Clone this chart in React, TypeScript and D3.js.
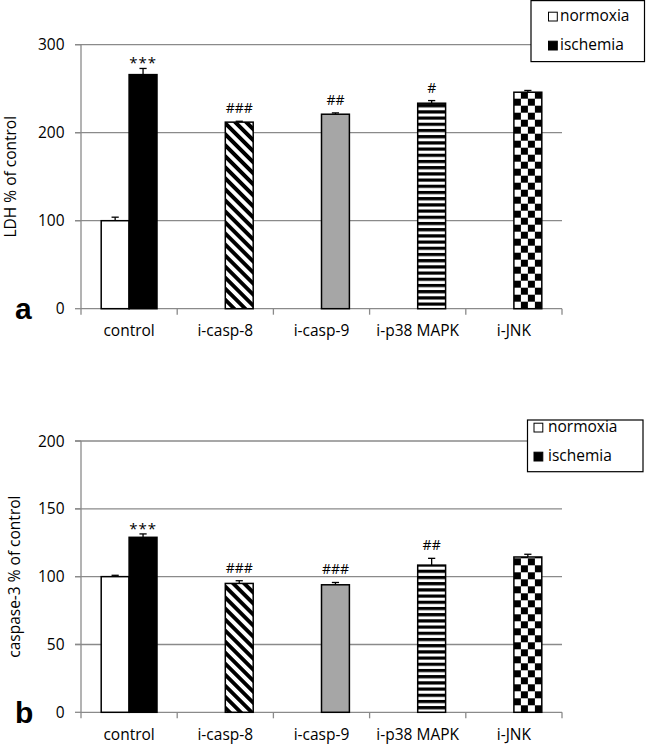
import React from "react";
import * as d3 from "d3";

const categories = ["control", "i-casp-8", "i-casp-9", "i-p38 MAPK", "i-JNK"];
const seriesNames = ["normoxia", "ischemia"];

const ldhNormoxia: (number | null)[] = [100, null, null, null, null];
const ldhNormoxiaErr: (number | null)[] = [4, null, null, null, null];
const ldhIschemia = [266, 212, 221, 233.5, 246];
const ldhIschemiaErr = [7, 1, 1.5, 3, 2];
const ldhMarks = ["***", "###", "##", "#", ""];
const ldhTicks = [0, 100, 200, 300];

const casNormoxia: (number | null)[] = [100, null, null, null, null];
const casNormoxiaErr: (number | null)[] = [1, null, null, null, null];
const casIschemia = [129, 95, 94, 108.5, 114.5];
const casIschemiaErr = [2.5, 2, 1.7, 5, 2];
const casMarks = ["***", "###", "###", "##", ""];
const casTicks = [0, 50, 100, 150, 200];

const fills = ["solid", "diag", "gray", "hstripe", "checker"];

const FONT = "'Open Sans', 'Noto Sans', sans-serif";
const GRID = "#8a8a8a";

type PanelProps = {
  id: string;
  yTop: number;
  yBottom: number;
  ticks: number[];
  normoxia: (number | null)[];
  normoxiaErr: (number | null)[];
  ischemia: number[];
  ischemiaErr: number[];
  marks: string[];
  ylabel: string;
  ylabelX: number;
  letter: string;
  letterY: number;
  legend: { x: number; y: number; w: number; h: number; mx: number; tx: number; rows: number[] };
};

function Panel(p: PanelProps) {
  const x = d3.scaleBand<string>().domain(categories).range([81, 562]).padding(0);
  const max = p.ticks[p.ticks.length - 1];
  const y = d3.scaleLinear().domain([0, max]).range([p.yBottom, p.yTop]);
  const bw = x.bandwidth() * 0.29;
  const center = (c: string) => (x(c) as number) + x.bandwidth() / 2;
  const fillFor = (i: number) => {
    const f = fills[i];
    if (f === "solid") return "#000";
    if (f === "gray") return "#a6a6a6";
    return `url(#${p.id}-${f})`;
  };
  const leftOf = (name: string) => center(categories[fills.indexOf(name)]);

  return (
    <g>
      <defs>
        <pattern id={`${p.id}-diag`} patternUnits="userSpaceOnUse" width={7.8} height={10}
          patternTransform="rotate(-45)">
          <rect width={7.8} height={10} fill="#fff" />
          <rect width={3.9} height={10} fill="#000" />
        </pattern>
        <pattern id={`${p.id}-hstripe`} patternUnits="userSpaceOnUse" width={10} height={6.2}
          x={leftOf("hstripe")} y={p.yBottom}>
          <rect width={10} height={6.2} fill="#fff" />
          <rect width={10} height={3.2} fill="#000" />
        </pattern>
        <pattern id={`${p.id}-checker`} patternUnits="userSpaceOnUse" width={14} height={14}
          x={leftOf("checker")} y={p.yBottom}>
          <rect width={14} height={14} fill="#fff" />
          <rect width={7} height={7} fill="#000" />
          <rect x={7} y={7} width={7} height={7} fill="#000" />
        </pattern>
      </defs>

      {p.ticks.filter((t) => t > 0).map((t) => (
        <line key={t} x1={75} x2={562} y1={y(t)} y2={y(t)} stroke={GRID} strokeWidth={1.3} />
      ))}
      {p.ticks.map((t) => (
        <g key={"t" + t}>
          <line x1={75} x2={81} y1={y(t)} y2={y(t)} stroke={GRID} strokeWidth={1.3} />
          <text x={64.5} y={y(t) + 5.5} textAnchor="end" fontFamily={FONT} fontSize={15.5} fill="#000">
            {t}
          </text>
        </g>
      ))}
      <line x1={81} x2={81} y1={p.yTop} y2={p.yBottom} stroke={GRID} strokeWidth={1.3} />
      <line x1={81} x2={562} y1={p.yBottom} y2={p.yBottom} stroke={GRID} strokeWidth={1.3} />
      {[...categories.map((c) => x(c) as number), 562].map((xx, i) => (
        <line key={"xt" + i} x1={xx} x2={xx} y1={p.yBottom} y2={p.yBottom + 6} stroke={GRID} strokeWidth={1.3} />
      ))}
      {categories.map((c) => (
        <text key={"c" + c} x={center(c)} y={p.yBottom + 27.5} textAnchor="middle" fontFamily={FONT}
          fontSize={15.5} fill="#000">
          {c}
        </text>
      ))}

      {categories.map((c, i) => {
        const v = p.normoxia[i];
        if (v == null) return null;
        const e = p.normoxiaErr[i] ?? 0;
        const cx = center(c) - bw / 2;
        return (
          <g key={"n" + c}>
            <line x1={cx} x2={cx} y1={y(v)} y2={y(v + e)} stroke="#000" strokeWidth={1.3} />
            <line x1={cx - 3.6} x2={cx + 3.6} y1={y(v + e)} y2={y(v + e)} stroke="#000" strokeWidth={1.3} />
            <rect x={center(c) - bw} y={y(v)} width={bw} height={p.yBottom - y(v)} fill="#fff"
              stroke="#000" strokeWidth={1.5} />
          </g>
        );
      })}
      {categories.map((c, i) => {
        const v = p.ischemia[i];
        const e = p.ischemiaErr[i];
        const cx = center(c) + bw / 2;
        const capY = y(v + e);
        const m = p.marks[i];
        const isStar = m.startsWith("*");
        return (
          <g key={"i" + c}>
            <line x1={cx} x2={cx} y1={y(v)} y2={capY} stroke="#000" strokeWidth={1.3} />
            <line x1={cx - 3.6} x2={cx + 3.6} y1={capY} y2={capY} stroke="#000" strokeWidth={1.3} />
            <rect x={center(c)} y={y(v)} width={bw} height={p.yBottom - y(v)} fill={fillFor(i)}
              stroke="#000" strokeWidth={1.5} />
            {m && (
              <text x={cx} y={isStar ? capY : capY - 8} textAnchor="middle" fontFamily={FONT}
                fontSize={isStar ? 15 : 14} letterSpacing={isStar ? 1 : 0} fill="#000">
                {m}
              </text>
            )}
          </g>
        );
      })}

      <text transform={`translate(${p.ylabelX},${(p.yTop + p.yBottom) / 2}) rotate(-90)`} textAnchor="middle"
        fontFamily={FONT} fontSize={15.5} fill="#000">
        {p.ylabel}
      </text>
      <text x={15} y={p.letterY} fontFamily="'Liberation Sans', Arial, sans-serif" fontWeight="bold"
        fontSize={30} fill="#000">
        {p.letter}
      </text>

      <rect x={p.legend.x} y={p.legend.y} width={p.legend.w} height={p.legend.h} fill="#fff"
        stroke="#000" strokeWidth={1.2} />
      {seriesNames.map((s, i) => (
        <g key={s}>
          <rect x={p.legend.mx} y={p.legend.rows[i] - 8.8} width={8.8} height={8.8}
            fill={i === 0 ? "#fff" : "#000"} stroke="#000" strokeWidth={1} />
          <text x={p.legend.tx} y={p.legend.rows[i]} fontFamily={FONT} fontSize={15.5} fill="#000">
            {s}
          </text>
        </g>
      ))}
    </g>
  );
}

export default function App() {
  return (
    <svg width={646} height={746} style={{ position: "absolute", left: 0, top: 0, background: "#fff" }}>
      <rect width={646} height={746} fill="#fff" />
      <Panel
        id="a"
        yTop={44.7}
        yBottom={308.7}
        ticks={ldhTicks}
        normoxia={ldhNormoxia}
        normoxiaErr={ldhNormoxiaErr}
        ischemia={ldhIschemia}
        ischemiaErr={ldhIschemiaErr}
        marks={ldhMarks}
        ylabel="LDH % of control"
        ylabelX={15.5}
        letter="a"
        letterY={319}
        legend={{ x: 531, y: 0.6, w: 113.5, h: 61, mx: 548.5, tx: 560, rows: [21, 50] }}
      />
      <Panel
        id="b"
        yTop={441}
        yBottom={712.3}
        ticks={casTicks}
        normoxia={casNormoxia}
        normoxiaErr={casNormoxiaErr}
        ischemia={casIschemia}
        ischemiaErr={casIschemiaErr}
        marks={casMarks}
        ylabel="caspase-3 % of control"
        ylabelX={19.5}
        letter="b"
        letterY={723}
        legend={{ x: 527.5, y: 420, w: 115.5, h: 51.7, mx: 534, tx: 548, rows: [432, 461] }}
      />
    </svg>
  );
}
